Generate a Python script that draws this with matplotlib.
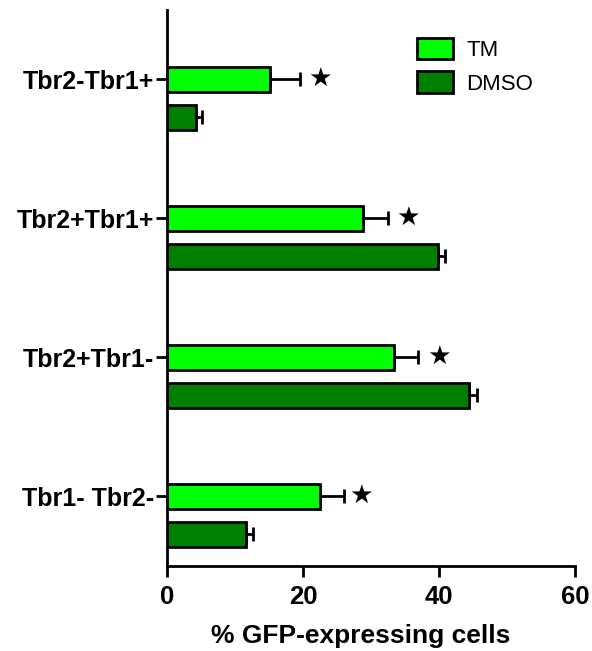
import numpy as np
import matplotlib.pyplot as plt

groups = ["Tbr2-Tbr1+", "Tbr2+Tbr1+", "Tbr2+Tbr1-", "Tbr1- Tbr2-"]
tm_vals = [15.1, 28.8, 33.4, 22.5]
tm_err = [4.4, 3.7, 3.5, 3.5]
dmso_vals = [4.3, 39.9, 44.4, 11.6]
dmso_err = [0.9, 1.0, 1.2, 1.0]
star_x = [22.5, 35.5, 40.0, 28.5]

plt.rcParams['font.family'] = ['Liberation Sans', 'DejaVu Sans']

fig = plt.figure(figsize=(5.92, 6.51), dpi=100)
ax = fig.add_axes([0.282, 0.131, 0.689, 0.854])

y = np.arange(len(groups))
off = 0.275
h = 0.18
ek = dict(ecolor='black', elinewidth=2, capsize=5, capthick=2)
ax.barh(y, tm_vals, height=h, color='#00ff00', edgecolor='black', linewidth=2,
        xerr=[np.zeros(4), tm_err], error_kw=ek, label='TM')
ax.barh(y + off, dmso_vals, height=h, color='#008000', edgecolor='black', linewidth=2,
        xerr=[np.zeros(4), dmso_err], error_kw=ek, label='DMSO')

for yi, sx in zip(y, star_x):
    ax.text(sx, yi, "★", fontsize=19, ha='center', va='center', family='DejaVu Sans')

ax.set_ylim(3.5, -0.5)
ax.set_xlim(0, 60)
ax.set_xticks([0, 20, 40, 60])
ax.set_yticks(y)
ax.set_yticklabels(groups, fontsize=18, fontweight='bold')
for lbl in ax.get_xticklabels():
    lbl.set_fontsize(18.5)
    lbl.set_fontweight('bold')
ax.set_xlabel("% GFP-expressing cells", fontsize=19, fontweight='bold')
ax.xaxis.set_label_coords(0.475, -0.105)

for s in ['top', 'right']:
    ax.spines[s].set_visible(False)
for s in ['left', 'bottom']:
    ax.spines[s].set_linewidth(2)
ax.tick_params(axis='x', width=2, length=8, direction='out', pad=6)
ax.tick_params(axis='y', width=2, length=8, direction='out', pad=1)

ax.legend(loc='upper left', bbox_to_anchor=(0.563, 0.985), frameon=False, fontsize=16,
          handlelength=1.65, handleheight=1.1, handletextpad=0.6, labelspacing=0.45)

fig.savefig("out.png", dpi=100)
